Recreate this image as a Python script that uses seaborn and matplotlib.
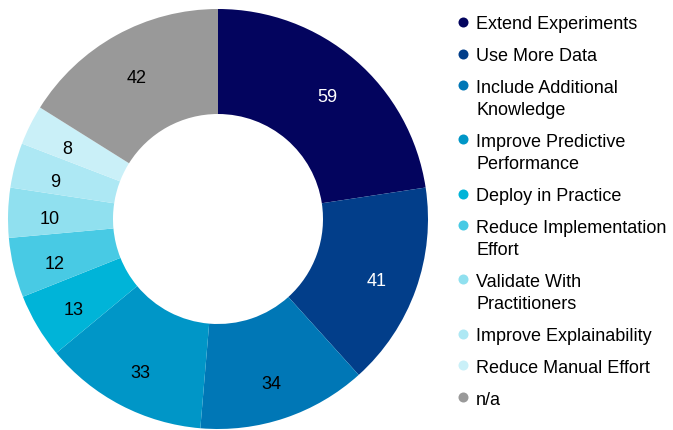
import numpy as np
import matplotlib
matplotlib.use("Agg")
import matplotlib.pyplot as plt
import seaborn as sns

categories = [
    "Extend Experiments",
    "Use More Data",
    "Include Additional\nKnowledge",
    "Improve Predictive\nPerformance",
    "Deploy in Practice",
    "Reduce Implementation\nEffort",
    "Validate With\nPractitioners",
    "Improve Explainability",
    "Reduce Manual Effort",
    "n/a",
]
counts = [59, 41, 34, 33, 13, 12, 10, 9, 8, 42]
hex_colors = ["#03045E", "#023E8A", "#0077B6", "#0096C7", "#00B4D8",
              "#48CAE4", "#90E0EF", "#ADE8F4", "#CAF0F8", "#999999"]
label_colors = ["white", "white"] + ["black"] * 8

sns.set_theme(style="white")
plt.rcParams["font.family"] = ["Liberation Sans", "DejaVu Sans"]
palette = sns.color_palette(hex_colors)

W, H = 673, 431
fig = plt.figure(figsize=(W / 100, H / 100), dpi=100)

# donut placement in pixels
cx, cy, r_out = 218, 220, 210
ax = fig.add_axes([(cx - r_out) / W, (H - cy - r_out) / H, 2 * r_out / W, 2 * r_out / H])
wedges, _ = ax.pie(counts, colors=palette, startangle=90, counterclock=False,
                   radius=1.0, wedgeprops=dict(width=0.5, linewidth=0))
ax.set_xlim(-1, 1)
ax.set_ylim(-1, 1)
ax.set_aspect("equal")
ax.axis("off")

# value labels sit a little outside the middle of the ring, nudged down
label_r = 0.80
label_dy = -5 / r_out
total = sum(counts)
cum = np.cumsum([0] + counts)
for i, v in enumerate(counts):
    mid = (cum[i] + cum[i + 1]) / 2 / total * 2 * np.pi
    x, y = label_r * np.sin(mid), label_r * np.cos(mid) + label_dy
    ax.text(x, y, str(v), ha="center", va="center", fontsize=13,
            color=label_colors[i])

# legend drawn in pixel coordinates
lax = fig.add_axes([0, 0, 1, 1])
lax.set_xlim(0, W)
lax.set_ylim(H, 0)
lax.axis("off")
y = 22.7
line_step = 22.3
entry_gap = 31.8
for i, lab in enumerate(categories):
    lines = lab.split("\n")
    lax.scatter([462.7], [y], s=52, color=palette[i], linewidths=0)
    for j, ln in enumerate(lines):
        lax.text(476, y + j * line_step, ln, ha="left", va="center_baseline",
                 fontsize=13, color="black")
    y += (len(lines) - 1) * line_step + entry_gap

fig.savefig("out.png", dpi=100)
